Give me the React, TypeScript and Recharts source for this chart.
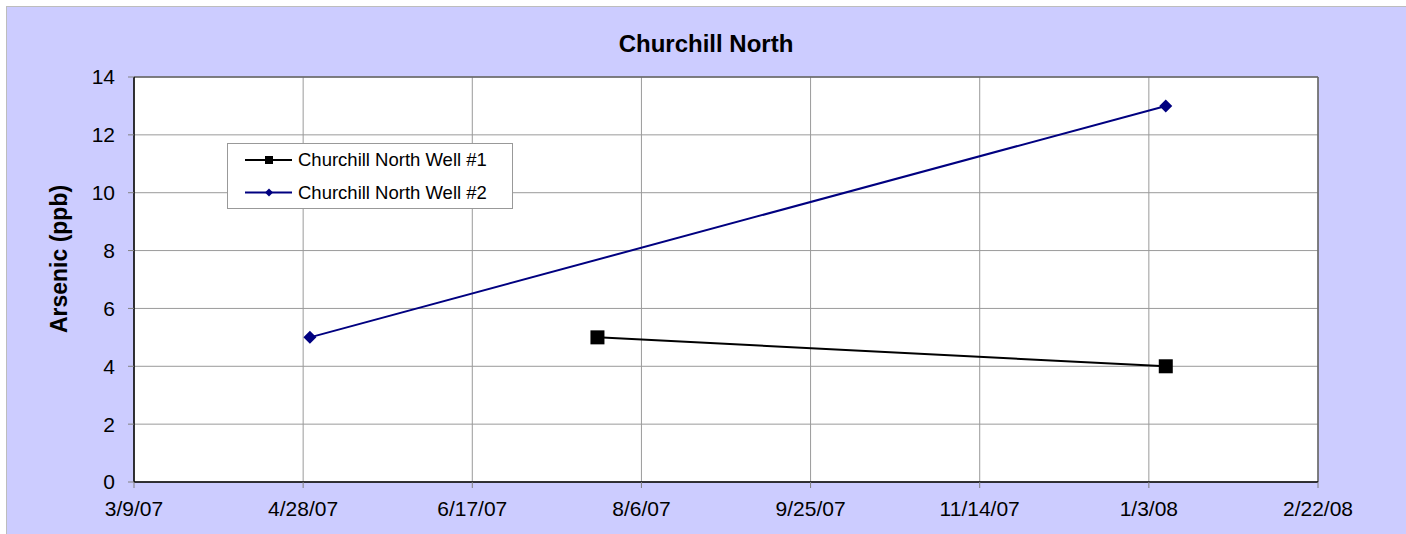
import React from 'react';
import { LineChart, Line, XAxis, YAxis, CartesianGrid, ReferenceLine, Legend, Label, Customized } from 'recharts';

const FONT = '"Liberation Sans", Arial, Helvetica, sans-serif';

// Tick labels on the date axis
const xTickLabels = ['3/9/07', '4/28/07', '6/17/07', '8/6/07', '9/25/07', '11/14/07', '1/3/08', '2/22/08'];
const yTicks = [0, 2, 4, 6, 8, 10, 12, 14];

// Series: Churchill North Well #1
const well1Dates = ['7/24/07', '1/8/08'];
const well1Values = [5, 4];

// Series: Churchill North Well #2
const well2Dates = ['4/30/07', '1/8/08'];
const well2Values = [5, 13];

const title = 'Churchill North';
const yAxisTitle = 'Arsenic (ppb)';
const well1Name = 'Churchill North Well #1';
const well2Name = 'Churchill North Well #2';

const toDay = (s: string) => {
  const [m, d, y] = s.split('/').map(Number);
  return Date.UTC(2000 + y, m - 1, d) / 86400000;
};
const dayToLabel = (t: number) => {
  const dt = new Date(t * 86400000);
  return `${dt.getUTCMonth() + 1}/${dt.getUTCDate()}/${String(dt.getUTCFullYear() % 100).padStart(2, '0')}`;
};

const xTicks = xTickLabels.map(toDay);
const well1Data = well1Dates.map((d, i) => ({ t: toDay(d), v: well1Values[i] }));
const well2Data = well2Dates.map((d, i) => ({ t: toDay(d), v: well2Values[i] }));

const SquareDot = (props: any) => {
  const { cx, cy, index } = props;
  if (cx == null || cy == null) return <g key={`s${index}`} />;
  return <rect key={`s${index}`} x={cx - 7} y={cy - 7} width={14} height={14} fill="#000" />;
};
const DiamondDot = (props: any) => {
  const { cx, cy, index } = props;
  if (cx == null || cy == null) return <g key={`d${index}`} />;
  const r = 6.5;
  return <polygon key={`d${index}`} points={`${cx},${cy - r} ${cx + r},${cy} ${cx},${cy + r} ${cx - r},${cy}`} fill="#000080" />;
};

const renderLegend = () => (
  <div style={{ width: 286, height: 66, background: '#fff', border: '1px solid #999', boxSizing: 'border-box' }}>
    <svg width={284} height={64}>
      <g>
        <line x1={17} y1={16} x2={64} y2={16} stroke="#000" strokeWidth={2} />
        <rect x={37} y={12} width={8} height={8} fill="#000" />
        <text x={70} y={16} dy="0.35em" fontSize={18.5} fontFamily={FONT} fill="#000">{well1Name}</text>
      </g>
      <g>
        <line x1={17} y1={48.5} x2={64} y2={48.5} stroke="#000080" strokeWidth={2} />
        <polygon points={`41,44.5 45,48.5 41,52.5 37,48.5`} fill="#000080" />
        <text x={70} y={48.5} dy="0.35em" fontSize={18.5} fontFamily={FONT} fill="#000">{well2Name}</text>
      </g>
    </svg>
  </div>
);

const TitleText = () => (
  <text x={706} y={51.5} textAnchor="middle" fontSize={24} fontWeight="bold" fontFamily={FONT} fill="#000">{title}</text>
);

export default function App() {
  return (
    <div style={{ position: 'absolute', left: 0, top: 0, width: 1406, height: 534, overflow: 'hidden', background: '#fff' }}>
      <div style={{ position: 'absolute', left: 6, top: 6, width: 1400, height: 528, background: '#CCCCFF', borderTop: '1px solid #BDBDBD', borderLeft: '1px solid #BDBDBD', boxSizing: 'border-box' }} />
      <div style={{ position: 'absolute', left: 0, top: 0 }}>
        <LineChart width={1406} height={534} margin={{ top: 77, right: 88, bottom: 0, left: 0 }}>
          <CartesianGrid fill="#fff" stroke="#9a9a9a" strokeWidth={1} />
          <XAxis
            dataKey="t"
            type="number"
            domain={[xTicks[0], xTicks[xTicks.length - 1]]}
            ticks={xTicks}
            tickFormatter={dayToLabel}
            height={52}
            allowDuplicatedCategory={false}
            axisLine={{ stroke: '#000', strokeWidth: 1.5 }}
            tickLine={{ stroke: '#808080' }}
            tickSize={6}
            tickMargin={13}
            tick={{ fill: '#000', fontSize: 21, fontFamily: FONT }}
            interval={0}
          />
          <YAxis
            type="number"
            domain={[0, 14]}
            ticks={yTicks}
            width={134}
            axisLine={{ stroke: '#000', strokeWidth: 1.5 }}
            tickLine={{ stroke: '#808080' }}
            tickSize={6}
            tickMargin={13}
            tick={{ fill: '#000', fontSize: 21, fontFamily: FONT }}
            interval={0}
          >
            <Label
              content={() => (
                <text x={59} y={259} transform="rotate(-90, 59, 259)" textAnchor="middle" dy="0.35em" fontSize={23} fontWeight="bold" fontFamily={FONT} fill="#000">{yAxisTitle}</text>
              )}
            />
          </YAxis>
          <ReferenceLine y={14} stroke="#666" strokeWidth={1.5} />
          <ReferenceLine x={xTicks[xTicks.length - 1]} stroke="#666" strokeWidth={1.5} />
          <Line data={well1Data} dataKey="v" name={well1Name} stroke="#000" strokeWidth={2} dot={SquareDot} activeDot={false} isAnimationActive={false} />
          <Line data={well2Data} dataKey="v" name={well2Name} stroke="#000080" strokeWidth={2} dot={DiamondDot} activeDot={false} isAnimationActive={false} />
          <Legend layout="vertical" align="center" verticalAlign="middle" wrapperStyle={{ left: 227, top: 143, width: 286, height: 66 }} content={renderLegend} />
          <Customized component={TitleText} />
        </LineChart>
      </div>
    </div>
  );
}
